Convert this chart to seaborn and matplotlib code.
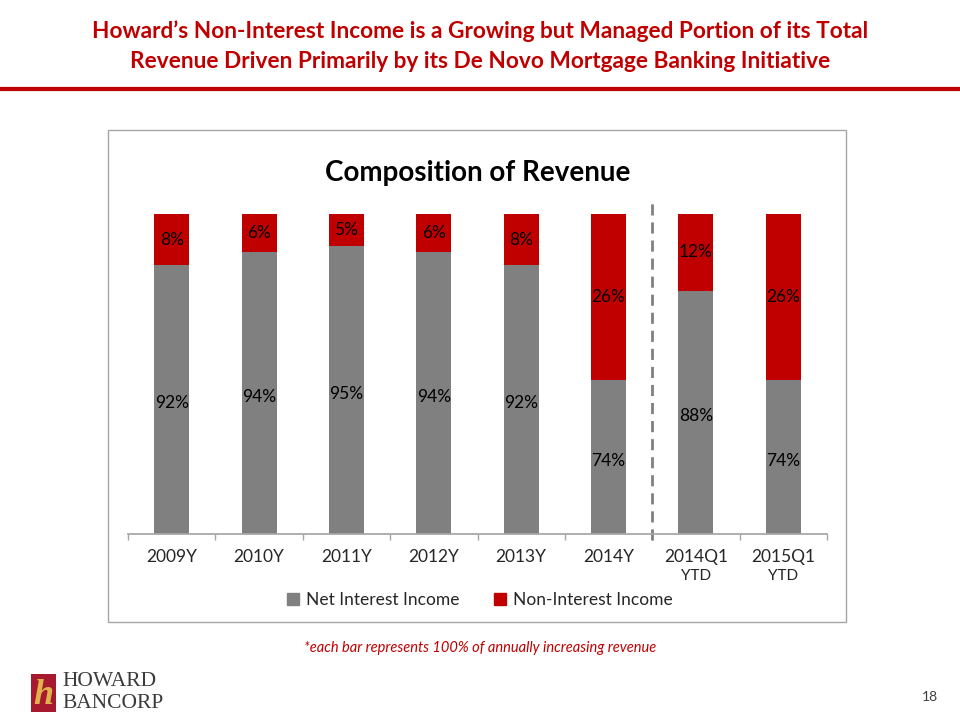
import matplotlib
matplotlib.use('Agg')
import matplotlib.pyplot as plt
import seaborn as sns
import pandas as pd
from matplotlib.patches import Rectangle
from matplotlib.lines import Line2D

periods = ['2009Y', '2010Y', '2011Y', '2012Y', '2013Y', '2014Y', '2014Q1', '2015Q1']
period_notes = ['', '', '', '', '', '', 'YTD', 'YTD']
net_interest = [92, 94, 95, 94, 92, 74, 88, 74]
non_interest = [8, 6, 5, 6, 8, 26, 12, 26]

GRAY = '#808080'
RED = '#C00000'

df = pd.DataFrame({'period': periods, 'net': net_interest, 'non': non_interest})
df['total'] = df['net'] + df['non']

sns.set_theme(style='white')
plt.rcParams['font.family'] = ['Lato', 'DejaVu Sans']

fig = plt.figure(figsize=(9.6, 7.2), dpi=100)

# page title + rule
fig.text(0.5, 0.957, "Howard\u2019s Non-Interest Income is a Growing but Managed Portion of its Total",
         ha='center', va='center', fontsize=16.3, fontweight='bold', color=RED)
fig.text(0.5, 0.915, "Revenue Driven Primarily by its De Novo Mortgage Banking Initiative",
         ha='center', va='center', fontsize=16.3, fontweight='bold', color=RED)
fig.add_artist(Line2D([0, 1], [0.877, 0.877], color=RED, lw=3, transform=fig.transFigure))

# chart frame
fig.add_artist(Rectangle((108 / 960, 1 - 622 / 720), 738 / 960, 492 / 720, transform=fig.transFigure,
                         fill=False, edgecolor='#A6A6A6', lw=1))
fig.text(478 / 960, 1 - 173 / 720, 'Composition of Revenue', ha='center', va='center',
         fontsize=20, fontweight='bold', color='black')

ax = fig.add_axes([128 / 960, 1 - 534 / 720, 699 / 960, 320 / 720])
sns.barplot(data=df, x='period', y='total', color=RED, width=0.4, saturation=1, ax=ax,
            linewidth=0)
sns.barplot(data=df, x='period', y='net', color=GRAY, width=0.4, saturation=1, ax=ax,
            linewidth=0)
ax.set_ylim(50, 100)
ax.set_xlim(-0.5, len(periods) - 0.5)
ax.set_yticks([])
ax.set_xlabel('')
ax.set_ylabel('')
for s in ['top', 'right', 'left']:
    ax.spines[s].set_visible(False)
ax.spines['bottom'].set_color('#A6A6A6')
ax.set_xticks(range(len(periods)))
ax.set_xticklabels(periods, fontsize=12.5)
ax.set_xticks([i - 0.5 for i in range(len(periods) + 1)], minor=True)
ax.tick_params(axis='x', which='major', length=0, pad=11)
ax.tick_params(axis='x', which='minor', length=4, color='#A6A6A6', bottom=True)
for i, note in enumerate(period_notes):
    if note:
        ax.text(i, -0.13, note, transform=ax.get_xaxis_transform(), ha='center', va='center', fontsize=11)

# data labels
for i, (n, r) in enumerate(zip(net_interest, non_interest)):
    ax.text(i, (50 + n) / 2 - 0.6, f'{n}%', ha='center', va='center', fontsize=12.5, color='black')
    ax.text(i, n + r / 2, f'{r}%', ha='center', va='center', fontsize=12.5, color='black')

# divider between annual and YTD
ax.plot([5.5, 5.5], [-0.02, 1.04], transform=ax.get_xaxis_transform(), ls=(0, (4, 2.5)),
        color='#808080', lw=2, clip_on=False)

handles = [Rectangle((0, 0), 1, 1, color=GRAY), Rectangle((0, 0), 1, 1, color=RED)]
fig.legend(handles, ['Net Interest Income', 'Non-Interest Income'], loc='center',
           bbox_to_anchor=(480 / 960, 1 - 600 / 720), ncol=2, frameon=False, fontsize=12.5,
           handlelength=0.7, handleheight=0.7, handletextpad=0.4, columnspacing=2.0)

fig.text(480 / 960, 1 - 648 / 720, '*each bar represents 100% of annually increasing revenue',
         ha='center', va='center', fontsize=10.5, style='italic', color=RED)

# logo
fig.add_artist(Rectangle((31 / 960, 1 - 712 / 720), 25 / 960, 38 / 720, transform=fig.transFigure,
                         color='#A6192E', lw=0))
fig.text(43 / 960, 1 - 695 / 720, 'h', ha='center', va='center', fontsize=26, fontweight='bold',
         style='italic', color='#E0B24C', family='Liberation Serif')
fig.text(62 / 960, 1 - 681 / 720, 'HOWARD', ha='left', va='center', fontsize=15.5,
         color='#3A3A3A', family='Liberation Serif')
fig.text(62 / 960, 1 - 703 / 720, 'BANCORP', ha='left', va='center', fontsize=15.5,
         color='#3A3A3A', family='Liberation Serif')

fig.text(930 / 960, 1 - 697 / 720, '18', ha='center', va='center', fontsize=10, color='#404040')

fig.savefig('out.png', dpi=100)
